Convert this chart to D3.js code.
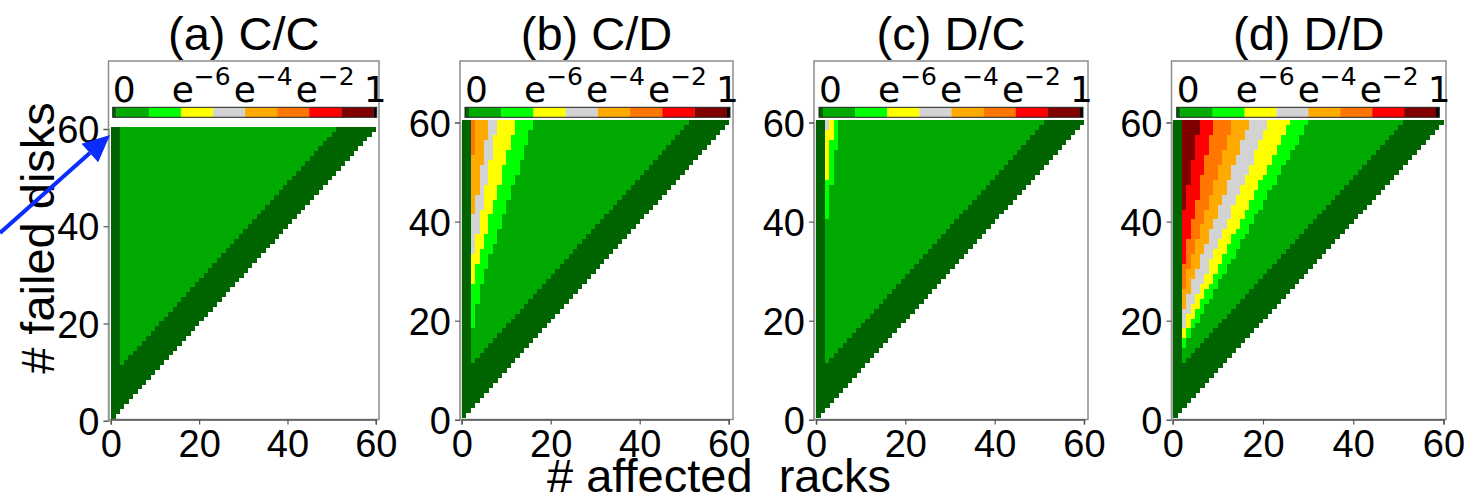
<!DOCTYPE html>
<html><head><meta charset="utf-8">
<script src="https://cdn.jsdelivr.net/npm/d3@7"></script>
<style>html,body{margin:0;padding:0;background:#fff}svg{display:block}</style>
</head><body>
<svg id="chart" width="1464" height="501"></svg>
<script>
// ---- data -------------------------------------------------------------
const panelTitles = ["(a) C/C", "(b) C/D", "(c) D/C", "(d) D/D"];
const xTickValues = [0, 20, 40, 60];
const yTickValues = [0, 20, 40, 60];
const maxDisks = 60;

// probability levels: 0 dark green (zero), then green .. dark red
const levelColors = ["#006400", "#00aa00", "#00ff00", "#ffff00", "#d3d3d3",
                     "#ffaa00", "#ff7700", "#ff0000", "#800000"];
const cbarLabels = [["0", ""], ["e", "\u22126"], ["e", "\u22124"], ["e", "\u22122"], ["1", ""]];

// For each level: first number of failed disks at which rack column 3, 4, 5, ... reaches it
const greenFrom = [12,13,14,15,16,17,18,19,20,21,22,23,24,25,26,27,28,29,30,31,32,33,34,35,36,
                   37,38,39,40,41,42,43,44,45,46,47,48,49,50,51,52,53,54,55,56,57,58,59,60];

const cdLime       = [19,24,28,31,34,36,39,42,45,48,50,53,56,59];
const cdYellow     = [28,32,35,38,42,45,48,52,55,58];
const cdGray       = [34,38,43,48,53,58];
const cdOrange     = [42,46,52,57];
const cdDarkOrange = [54];

const dcLime   = [41,48,55];
const dcYellow = [49,57];
const dcGray   = [59];

const ddLime       = [15,17,19,20,22,24,25,27,29,30,32,33,35,37,38,40,42,43,45,47,48,50,52,53,55,56,58,60];
const ddYellow     = [17,19,21,23,25,27,28,30,32,34,36,38,39,41,43,45,47,49,50,52,54,56,58,60];
const ddGray       = [19,22,24,26,28,30,33,35,37,39,41,44,46,48,50,52,55,57,59];
const ddOrange     = [23,26,29,31,34,36,39,41,44,46,49,52,54,57,59];
const ddDarkOrange = [27,31,34,37,40,43,46,49,52,55,58];
const ddRed        = [32,37,41,45,50,54,58];
const ddDarkRed    = [43,48,53,58];

const panelLevels = [
  [greenFrom],
  [greenFrom, cdLime, cdYellow, cdGray, cdOrange, cdDarkOrange],
  [greenFrom, dcLime, dcYellow, dcGray],
  [greenFrom, ddLime, ddYellow, ddGray, ddOrange, ddDarkOrange, ddRed, ddDarkRed]
];

// ---- layout -----------------------------------------------------------
const FONT = "'Liberation Sans', Arial, Helvetica, sans-serif";
const MATH_FONT = "'DejaVu Sans', sans-serif";
const frameTop = 61, frameBottom = 419.5;
const layout = [
  {x: [110.8, 375.8], y: [420.8, 129.0], spine: [108.5, 379.0], cbar: [112.7, 376.7]},
  {x: [461.7, 728.7], y: [419.8, 122.5], spine: [460.0, 733.0], cbar: [465.0, 730.0]},
  {x: [816.0, 1084.0], y: [419.8, 122.5], spine: [814.0, 1088.0], cbar: [819.0, 1083.0]},
  {x: [1172.7, 1443.5], y: [419.8, 122.5], spine: [1171.5, 1446.0], cbar: [1176.7, 1439.3]}
];

const svg = d3.select("#chart");

function levelAt(levels, rack, disks) {
  if (rack < 3) return 0;
  let lvl = 0;
  levels.forEach((arr, i) => {
    const t = arr[rack - 3];
    if (t !== undefined && disks >= t) lvl = i + 1;
  });
  return lvl;
}

layout.forEach((L, p) => {
  const g = svg.append("g");
  const xs = d3.scaleLinear().domain([0, maxDisks]).range(L.x);
  const ys = d3.scaleLinear().domain([0, maxDisks]).range(L.y);

  // heatmap cells, merged into horizontal runs per row
  const runs = [];
  for (let d = 1; d <= maxDisks; d++) {
    let start = 1, cur = levelAt(panelLevels[p], 1, d);
    for (let r = 2; r <= d + 1; r++) {
      const lv = r <= d ? levelAt(panelLevels[p], r, d) : -1;
      if (lv !== cur) {
        runs.push({disks: d, from: start, to: r - 1, level: cur});
        start = r; cur = lv;
      }
    }
  }
  g.append("g").attr("shape-rendering", "crispEdges")
    .selectAll("rect").data(runs).join("rect")
    .attr("x", d => xs(d.from - 1))
    .attr("width", d => xs(d.to) - xs(d.from - 1) + 0.3)
    .attr("y", d => ys(d.disks + 0.5))
    .attr("height", d => ys(d.disks - 0.5) - ys(d.disks + 0.5) + 0.3)
    .attr("fill", d => levelColors[d.level]);

  // frame
  g.append("rect")
    .attr("x", L.spine[0]).attr("y", frameTop)
    .attr("width", L.spine[1] - L.spine[0]).attr("height", frameBottom - frameTop)
    .attr("fill", "none").attr("stroke", "#8c8c8c").attr("stroke-width", 1.5);

  // axes
  const xAxis = d3.axisBottom(xs).tickValues(xTickValues).tickSize(5).tickPadding(4);
  const yAxis = d3.axisLeft(ys).tickValues(yTickValues).tickSize(5).tickPadding(4);
  const gx = g.append("g").attr("transform", `translate(0,${frameBottom})`).call(xAxis);
  const gy = g.append("g").attr("transform", `translate(${L.spine[0]},0)`).call(yAxis);
  [gx, gy].forEach(a => {
    a.select(".domain").attr("stroke", "#555").attr("stroke-width", 1.5);
    a.selectAll(".tick line").attr("stroke", "#555").attr("stroke-width", 1.2);
    a.selectAll(".tick text").attr("font-family", FONT).attr("font-size", 38).attr("fill", "#000");
  });
  gx.selectAll(".tick text").attr("dy", "0.75em");
  gy.selectAll(".tick text").attr("dy", "0.36em");
  gy.select(".domain").attr("stroke", "#999");

  // colour bar
  const cb = d3.scaleLinear().domain([0, 8]).range([L.cbar[0] + 4, L.cbar[1] - 3.3]);
  const cbY = 107.3, cbH = 10;
  g.append("rect").attr("x", L.cbar[0]).attr("y", cbY).attr("width", 4).attr("height", cbH).attr("fill", levelColors[0]);
  g.append("g").selectAll("rect").data(d3.range(1, 9)).join("rect")
    .attr("x", k => cb(k - 1)).attr("width", k => cb(k) - cb(k - 1) + 0.2)
    .attr("y", cbY).attr("height", cbH).attr("fill", k => levelColors[k]);
  g.append("rect").attr("x", L.cbar[1] - 3.3).attr("y", cbY).attr("width", 3.3).attr("height", cbH).attr("fill", "#000");
  g.append("rect").attr("x", L.cbar[0]).attr("y", cbY).attr("width", L.cbar[1] - L.cbar[0]).attr("height", cbH)
    .attr("fill", "none").attr("stroke", "#222").attr("stroke-width", 1);

  // colour bar labels
  const offs = [0, 59, 121, 183, 251];
  cbarLabels.forEach(([base, sup], i) => {
    const t = g.append("text").attr("x", L.cbar[0] + offs[i]).attr("y", 101.7)
      .attr("font-family", MATH_FONT).attr("font-size", 36).attr("fill", "#000");
    t.append("tspan").text(base);
    if (sup) t.append("tspan").attr("dy", -16.5).attr("font-size", 25).text(sup);
  });

  // title
  g.append("text").attr("x", (L.spine[0] + L.spine[1]) / 2).attr("y", 50)
    .attr("text-anchor", "middle").attr("font-family", FONT).attr("font-size", 47)
    .text(panelTitles[p]);
});

// axis labels
svg.append("text").attr("x", 719).attr("y", 492).attr("text-anchor", "middle")
  .attr("font-family", FONT).attr("font-size", 47).attr("xml:space", "preserve")
  .text("# affected  racks");
svg.append("text").attr("transform", "translate(54,238) rotate(-90)").attr("text-anchor", "middle")
  .attr("font-family", FONT).attr("font-size", 47).text("# failed disks");

// blue pointer arrow onto panel (a)
const tip = [110, 135], tail = [0, 233];
const ang = Math.atan2(tip[1] - tail[1], tip[0] - tail[0]);
const headLen = 27, headHalf = 12.5;
const base = [tip[0] - headLen * Math.cos(ang), tip[1] - headLen * Math.sin(ang)];
svg.append("line").attr("x1", tail[0]).attr("y1", tail[1]).attr("x2", base[0]).attr("y2", base[1])
  .attr("stroke", "#0a2cff").attr("stroke-width", 4);
svg.append("path").attr("fill", "#0a2cff").attr("d", d3.line()([
  tip,
  [base[0] + headHalf * Math.sin(ang), base[1] - headHalf * Math.cos(ang)],
  [base[0] - headHalf * Math.sin(ang), base[1] + headHalf * Math.cos(ang)]
]) + "Z");
</script>
</body></html>
